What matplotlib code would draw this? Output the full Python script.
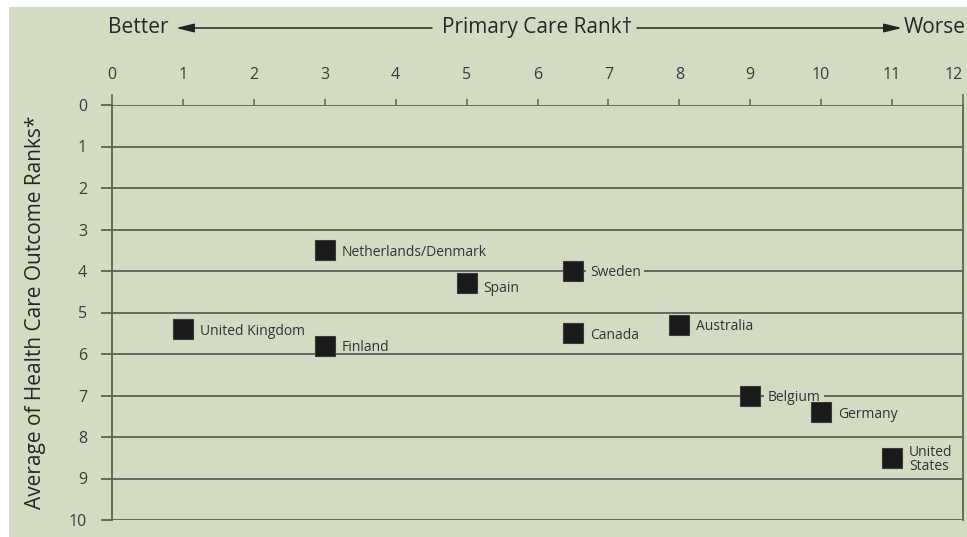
import matplotlib.pyplot as plt
from matplotlib.patches import Rectangle, FancyArrowPatch

# data
countries = ["United Kingdom", "Netherlands/Denmark", "Finland", "Spain", "Sweden",
             "Canada", "Australia", "Belgium", "Germany", "United\nStates"]
primary_rank = [1, 3, 3, 5, 6.5, 6.5, 8, 9, 10, 11]
outcome_rank = [5.4, 3.5, 5.8, 4.3, 4.0, 5.5, 5.3, 7.0, 7.4, 8.5]
x_ticks = list(range(0, 13))
y_ticks = list(range(0, 11))

bg = "#d3dcc3"
line_col = "#5c6158"
text_col = "#262626"

plt.rcParams["font.family"] = ["Open Sans", "DejaVu Sans"]

fig = plt.figure(figsize=(9.67, 5.37), dpi=100)
fig.patch.set_facecolor("white")
# green panel behind everything
fig.patches.append(Rectangle((9 / 967, 0.0), 1.0, 1 - 7 / 537, transform=fig.transFigure,
                             facecolor=bg, edgecolor="none", zorder=-10))

ax = fig.add_axes([112 / 967, 1 - 520 / 537, (963 - 112) / 967, (520 - 105) / 537])
ax.set_facecolor(bg)
ax.set_xlim(0, 12)
ax.set_ylim(10, 0)

# horizontal rules at every rank
for y in y_ticks:
    ax.axhline(y, color=line_col, lw=1.3, zorder=1)

for side in ["left", "right"]:
    ax.spines[side].set_color(line_col)
    ax.spines[side].set_linewidth(1.3)
for side in ["top", "bottom"]:
    ax.spines[side].set_visible(False)

ax.set_xticks(x_ticks)
ax.set_yticks(y_ticks)
ax.xaxis.tick_top()
ax.tick_params(axis="x", direction="out", length=4, width=1.1, color=line_col,
               pad=12, labelsize=11.5, labelcolor="#3a3a3a")
ax.tick_params(axis="y", direction="out", length=8, width=1.3, color=line_col,
               pad=10, labelsize=11.5, labelcolor="#3a3a3a")
xt = ax.xaxis.get_major_ticks()
xt[0].tick2line.set_markersize(8)
xt[-1].tick2line.set_markersize(8)
xt[-1].label2.set_horizontalalignment("right")

ax.plot(primary_rank, outcome_rank, ls="none", marker="s", ms=14,
        mfc="#1a1a1a", mec="#3a3a3a", mew=0.8, zorder=4)

# labels sitting on a rule get a patch of background behind them
on_rule = {"Sweden", "Belgium"}
for name, x, y in zip(countries, primary_rank, outcome_rank):
    dy = -5 if name == "Spain" else -2
    box = dict(boxstyle="square,pad=0.25", fc=bg, ec="none") if name in on_rule else None
    ax.annotate(name, (x, y), xytext=(17, dy), textcoords="offset pixels",
                ha="left", va="center", fontsize=10, color="#333333",
                linespacing=0.9, zorder=3, bbox=box)

ax.set_ylabel("Average of Health Care Outcome Ranks*", fontsize=15, color=text_col)
ax.yaxis.set_label_coords(-0.077, 0.5)

# header with arrows
hy = 1 - 28 / 537
fig.text(108 / 967, hy, "Better", ha="left", va="center", fontsize=15, color=text_col)
fig.text(537 / 967, hy, "Primary Care Rank\u2020", ha="center", va="center",
         fontsize=15, color=text_col)
fig.text(966 / 967, hy, "Worse", ha="right", va="center", fontsize=15, color=text_col)
for start, end in [(432, 176), (637, 902)]:
    fig.add_artist(FancyArrowPatch((start / 967, hy), (end / 967, hy),
                                   transform=fig.transFigure,
                                   arrowstyle="-|>,head_length=0.9,head_width=0.22",
                                   mutation_scale=12, color="#222222", lw=1.1,
                                   shrinkA=0, shrinkB=0))

fig.savefig("out.png", dpi=100, facecolor=fig.get_facecolor())
